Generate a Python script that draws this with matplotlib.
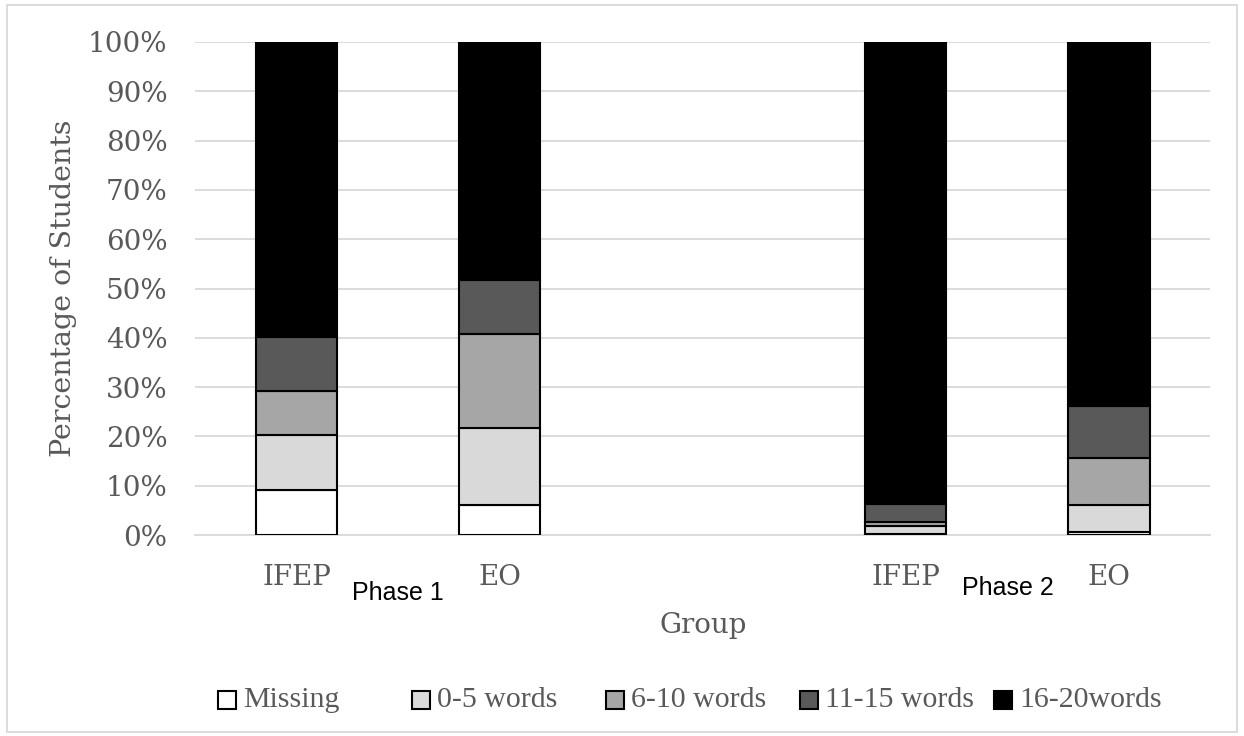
import matplotlib.pyplot as plt
from matplotlib.patches import Rectangle

groups = ['IFEP', 'EO', 'IFEP', 'EO']
positions = [0, 1, 3, 4]
phases = ['Phase 1', 'Phase 2']

series = ['Missing', '0-5 words', '6-10 words', '11-15 words', '16-20words']
missing = [9.2, 6.1, 0.3, 0.6]
w0_5 = [11.0, 15.7, 1.5, 5.5]
w6_10 = [9.1, 18.9, 0.8, 9.5]
w11_15 = [10.9, 11.1, 3.7, 10.5]
w16_20 = [59.8, 48.2, 93.7, 73.9]
values = [missing, w0_5, w6_10, w11_15, w16_20]
colors = ['#ffffff', '#d9d9d9', '#a6a6a6', '#595959', '#000000']

gray = '#595959'
plt.rcParams['font.family'] = ['DejaVu Serif']

fig = plt.figure(figsize=(12.44, 7.36), dpi=100)
ax = fig.add_axes([0.157, 0.273, 0.816, 0.670])

bottom = [0, 0, 0, 0]
for name, vals, c in zip(series, values, colors):
    ax.bar(positions, vals, 0.4, bottom=bottom, color=c, edgecolor='black',
           linewidth=1.5, label=name, zorder=3)
    bottom = [b + v for b, v in zip(bottom, vals)]

ax.set_xlim(-0.5, 4.5)
ax.set_ylim(0, 100)
ax.set_yticks(range(0, 101, 10))
ax.set_yticklabels([f'{t}%' for t in range(0, 101, 10)])
ax.set_xticks(positions)
ax.set_xticklabels(groups)
ax.tick_params(length=0, labelsize=20, colors=gray)
ax.tick_params(axis='x', pad=21)
ax.tick_params(axis='y', pad=20)
ax.grid(axis='y', color='#d9d9d9', linewidth=1.3, zorder=0)
for s in ['top', 'right', 'left']:
    ax.spines[s].set_visible(False)
ax.spines['bottom'].set_color('#d9d9d9')
ax.spines['bottom'].set_linewidth(1.3)

ax.set_ylabel('Percentage of Students', fontsize=20.5, color=gray, labelpad=8)
ax.set_xlabel('Group', fontsize=20, color=gray, labelpad=15)

ax.text(0.5, -0.118, phases[0], transform=ax.get_xaxis_transform(), ha='center',
        va='center', fontsize=18, family='Liberation Sans', color='black')
ax.text(3.5, -0.108, phases[1], transform=ax.get_xaxis_transform(), ha='center',
        va='center', fontsize=18, family='Liberation Sans', color='black')

# legend drawn by hand: Excel spaces the entries evenly
for i, (name, c) in enumerate(zip(series, colors)):
    x = (218 + 194 * i) / 1244
    fig.patches.append(Rectangle((x, 0.049 - 9 / 736), 18 / 1244, 18 / 736,
                                 transform=fig.transFigure, facecolor=c,
                                 edgecolor='black', linewidth=1.5))
    fig.text(x + 25 / 1244, 0.049, name, fontsize=21.5, color=gray,
             family='Liberation Serif', va='center', ha='left')

fig.patches.append(Rectangle((0.006, 0.005), 0.988, 0.988, transform=fig.transFigure,
                             fill=False, edgecolor='#d9d9d9', linewidth=1.3))

fig.savefig('out.png', dpi=100)
